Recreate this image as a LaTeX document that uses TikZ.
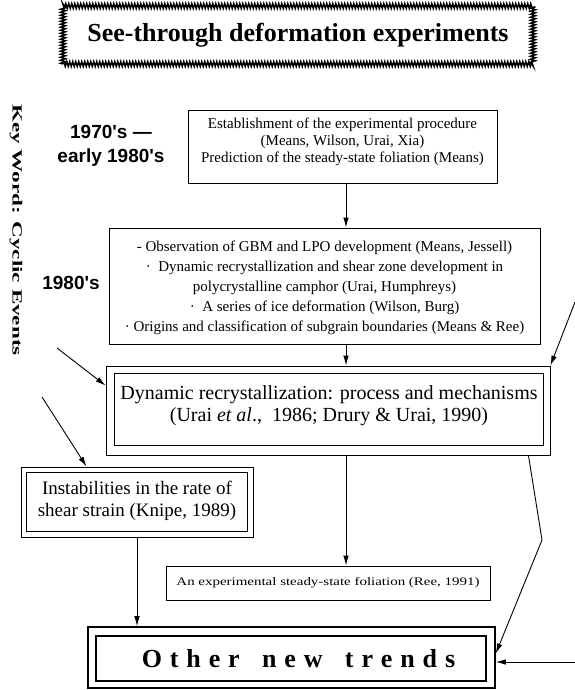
\documentclass[tikz,border=0pt]{standalone}
\usepackage{fontspec}
\setmainfont{Liberation Serif}
\newfontfamily\hsans{Liberation Sans}
\newfontfamily\wideserif[FakeStretch=1.3]{Liberation Serif}
\newfontfamily\kwfont[FakeStretch=1.65]{Liberation Serif}
\usetikzlibrary{arrows.meta,decorations.pathmorphing,calc}
\newcommand\myls{\hspace{7.9pt}}
\begin{document}
\begin{tikzpicture}[x=1pt,y=-1pt,
  box/.style={draw, line width=0.9pt, inner sep=0pt},
  txt/.style={align=center, inner sep=0pt, font=\fontsize{15}{17}\selectfont},
  era/.style={align=center, inner sep=0pt, font=\hsans\bfseries\fontsize{19}{24}\selectfont},
  arr/.style={-{Latex[length=10pt,width=5.5pt]}, line width=0.9pt}]
\useasboundingbox (0,0) rectangle (575,690);

% title
\node[draw, line width=1.5pt, decorate,
      decoration={zigzag, amplitude=2.4pt, segment length=3pt},
      minimum width=470pt, minimum height=58pt, inner sep=0pt,
      font=\fontsize{26}{30}\selectfont\bfseries] (title) at (298,35)
      {See-through deformation experiments};

% key word
\node[rotate=-90, inner sep=0pt, font=\kwfont\bfseries\fontsize{14}{16}\selectfont] (kw) at (16,230) {Key Word: Cyclic Events};

% era labels
\node[era] (e1) at (111,146) {1970's —\\early 1980's};
\node[era] (e2) at (71,283) {1980's};

% box 1
\node[box, minimum width=309pt, minimum height=73pt] (b1) at (342.5,146.5) {};
\node[txt, font=\fontsize{15}{17}\selectfont] (b1t) at (342.5,142)
  {Establishment of the experimental procedure\\(Means, Wilson, Urai, Xia)\\Prediction of the steady-state foliation (Means)};

% box 2
\node[box, minimum width=431pt, minimum height=116pt] (b2) at (324.5,286) {};
\node[txt, font=\fontsize{15}{20}\selectfont] (b2t) at (324.5,288)
  {- Observation of GBM and LPO development (Means, Jessell)\\
   ·\ \ Dynamic recrystallization and shear zone development in\\
   polycrystalline camphor (Urai, Humphreys)\\
   ·\ \ A series of ice deformation (Wilson, Burg)\\
   · Origins and classification of subgrain boundaries (Means \& Ree)};

% box 3 (double)
\node[box, minimum width=444pt, minimum height=89pt] (b3) at (328,410.5) {};
\draw[line width=0.9pt] ($(b3.north west)+(9,8)$) rectangle ($(b3.south east)+(-7,-10)$);
\node[txt, font=\fontsize{20}{22}\selectfont] (b3t) at (329,406)
  {Dynamic recrystallization: process and mechanisms\\(Urai \textit{et al}.,\ \ 1986; Drury \& Urai, 1990)};

% Knipe box (double)
\node[box, minimum width=232pt, minimum height=70pt] (kn) at (137,502) {};
\draw[line width=0.9pt] ($(kn.north west)+(6,6)$) rectangle ($(kn.south east)+(-6,-6)$);
\node[txt, font=\fontsize{19}{22}\selectfont] (knt) at (137,501)
  {Instabilities in the rate of\\shear strain (Knipe, 1989)};

% Ree box
\node[box, minimum width=324pt, minimum height=34pt] (ree) at (328,583) {};
\node[txt, font=\wideserif\fontsize{11.5}{13}\selectfont] (reet) at (328,583)
  {An experimental steady-state foliation (Ree, 1991)};

% Other new trends (double, thick)
\node[draw, line width=1.6pt, inner sep=0pt, minimum width=407pt, minimum height=61pt] (ot) at (291.5,657.5) {};
\draw[line width=1.6pt] ($(ot.north west)+(9,10)$) rectangle ($(ot.south east)+(-10,-8)$);
\node[inner sep=0pt, font=\fontsize{26}{30}\selectfont\bfseries] (ott) at (298.5,659)
  {O\myls t\myls h\myls e\myls r\myls\ \myls n\myls e\myls w\myls\ \myls t\myls r\myls e\myls n\myls d\myls s};

% free ends
\coordinate (ax) at (346,0);
\coordinate (l1) at (57,348);
\coordinate (l2) at (42,397);
\coordinate (r1) at (575,302);
\coordinate (r2) at (575,662);
\coordinate (bend) at (542,540);

% connectors
\draw[arr] (b1.south -| ax) -- (b2.north -| ax);
\draw[arr] (b2.south -| ax) -- (b3.north -| ax);
\draw[arr] (b3.south -| ax) -- (ree.north -| ax);
\draw[arr] (l1) -- ($(b3.north west)+(0,20)$);
\draw[arr] (l2) -- ($(kn.north west)+(66,0)$);
\draw[arr] (r1) -- (b3.north east);
\draw[arr] ($(b3.south east)+(-22,0)$) -- (bend) -- ($(ot.east)+(0,-4)$);
\draw[arr] (r2) -- (r2 -| ot.east);
\draw[arr] (kn.south) -- (kn.south |- ot.north);
\end{tikzpicture}
\end{document}
